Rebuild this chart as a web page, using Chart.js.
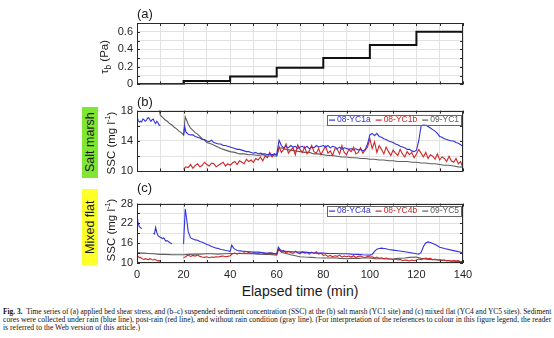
<!DOCTYPE html>
<html><head><meta charset="utf-8">
<script src="https://cdn.jsdelivr.net/npm/chart.js@4"></script>
<style>
body{margin:0;background:#fff;}
#wrap{position:relative;width:554px;height:338px;overflow:hidden;background:#fff;font-family:"Liberation Sans",Arial,sans-serif;color:#1a1a1a;}
canvas{position:absolute;left:0;}
.lbl{position:absolute;font-size:13px;line-height:14px;}
.vt{position:absolute;writing-mode:vertical-rl;transform:rotate(180deg);white-space:nowrap;display:flex;align-items:center;justify-content:center;}
.rot{position:absolute;white-space:nowrap;transform:translate(-50%,-50%) rotate(-90deg);font-size:11.5px;line-height:13px;}
.rot sup{font-size:7.5px;vertical-align:5px;line-height:0;}
.rot sub{font-size:8.5px;vertical-align:-3px;line-height:0;}
.cap{position:absolute;left:3px;font-family:"Liberation Serif",serif;font-size:7.4px;line-height:8px;white-space:nowrap;transform-origin:0 0;color:#111;}
</style></head>
<body>
<div id="wrap">
  <canvas id="ca" width="554" height="95" style="top:0px"></canvas>
  <canvas id="cb" width="554" height="82" style="top:100px"></canvas>
  <canvas id="cc" width="554" height="90" style="top:193px"></canvas>

  <div class="lbl" style="left:137px;top:7px">(a)</div>
  <div class="lbl" style="left:137px;top:95px">(b)</div>
  <div class="lbl" style="left:137px;top:181px">(c)</div>

  <div class="rot" style="left:104px;top:57px">τ<sub>b</sub> (Pa)</div>
  <div class="rot" style="left:111px;top:143px">SSC (mg l<sup>-1</sup>)</div>
  <div class="rot" style="left:111px;top:230px">SSC (mg l<sup>-1</sup>)</div>

  <div class="vt" style="left:82px;top:107px;width:16px;height:71px;font-size:12.5px;background:#80e632;">Salt marsh</div>
  <div class="vt" style="left:82px;top:189px;width:16px;height:76px;font-size:12.5px;background:#ffff2a;">Mixed flat</div>

  <div style="position:absolute;left:200px;top:283px;width:200px;text-align:center;font-size:14px;line-height:16px;color:#1a1a1a">Elapsed time (min)</div>

  <div class="cap" id="cap1" style="top:308px"><b>Fig. 3.</b>&nbsp; Time series of (a) applied bed shear stress, and (b–c) suspended sediment concentration (SSC) at the (b) salt marsh (YC1 site) and (c) mixed flat (YC4 and YC5 sites). Sediment</div>
  <div class="cap" id="cap2" style="top:316px">cores were collected under rain (blue line), post-rain (red line), and without rain condition (gray line). (For interpretation of the references to colour in this figure legend, the reader</div>
  <div class="cap" id="cap3" style="top:324px">is referred to the Web version of this article.)</div>
</div>
<script>
// ---------------- DATA ----------------
function seq(a, b, s) { const r = []; for (let t = a; t <= b + 1e-9; t += s) r.push(+t.toFixed(2)); return r; }

// (a) applied bed shear stress (Pa), step levels
const stressT = [0, 20, 40, 60, 80, 100, 120, 140];
const stressV = [0.005, 0.04, 0.09, 0.19, 0.30, 0.45, 0.60, 0.60];

// (b) salt marsh, 08-YC1a (rain, blue)
const yc1aT = [...seq(0, 10, 0.5), 15, 20, 20.5, ...seq(21, 140, 1)];
const yc1aV = [17.3,16.7,16.5,16.6,16.5,16.9,16.8,16.6,16.7,17.0,17.1,16.8,16.6,16.8,16.9,16.5,16.3,16.6,16.4,16.1,16.0,
  null, 14.7, 15.9,
  15.2,14.9,14.8,14.8,14.6,14.5,14.4,14.2,14.2,
  14.0,13.9,14.1,13.8,13.7,13.6,13.6,13.4,13.4,13.3,
  13.2,13.1,13.0,12.9,12.9,12.8,12.7,12.6,12.6,12.5,
  12.4,12.5,12.3,12.4,12.3,12.3,12.2,12.3,12.2,12.3,
  12.2,14.1,13.4,13.1,13.3,13.1,13.4,13.2,13.3,13.0,
  13.2,13.3,13.1,13.3,13.0,13.2,13.1,13.4,13.2,13.3,
  13.4,13.2,13.4,13.1,13.3,13.2,13.0,13.2,12.9,13.1,
  13.0,12.9,13.0,12.8,13.0,12.8,12.9,12.7,12.9,13.6,
  14.8,15.0,14.7,15.0,14.6,14.5,14.3,14.2,14.0,13.9,
  13.8,13.6,13.5,13.3,13.2,13.1,12.9,12.9,12.7,12.6,
  12.8,14.0,16.0,16.2,16.1,15.9,15.7,15.5,15.3,15.0,
  14.6,14.5,14.3,14.2,14.1,14.0,14.0,13.8,13.7,13.5,
  13.3];

// (b) salt marsh, 08-YC1b (post-rain, red)
const yc1bT = seq(20, 140, 1);
const yc1bV = [
  10.3,10.6,10.5,10.9,10.4,10.8,11.0,10.6,10.8,11.2,
  10.9,10.7,11.1,11.0,10.6,10.8,11.0,11.2,10.7,11.0,
  10.8,11.1,11.3,10.9,11.4,11.2,11.0,11.6,11.3,11.5,
  11.2,11.7,11.5,11.9,11.4,12.0,11.8,12.5,11.9,12.3,
  12.1,13.3,12.5,12.9,13.6,12.4,12.8,13.1,12.2,13.5,
  12.9,12.5,13.2,12.3,12.7,13.4,12.6,12.4,13.0,12.2,
  12.8,13.3,12.4,12.7,12.1,13.0,12.9,12.3,13.4,12.5,
  12.2,12.9,12.6,13.2,12.3,12.5,13.1,12.4,12.8,13.2,
  14.3,13.0,13.9,12.5,13.4,12.9,12.3,13.2,12.6,12.1,
  12.8,12.4,12.1,12.9,12.3,11.9,12.6,12.2,12.5,11.8,
  12.3,12.9,12.4,11.9,12.5,11.7,12.2,12.0,11.6,12.3,
  11.5,11.9,11.7,11.3,12.0,11.4,11.2,11.7,11.0,11.3,
  10.4];

// (b) salt marsh, 09-YC1 (no rain, gray)
const yc1T = [0,5,8,9.5,10,11,12,13,14,15,16,17,18,19,20,20.7,21.5,22,23,24,25,26,27,28,29,30,32,34,36,38,40,42,44,46,48,50,52,54,56,58,60,61,62,64,66,68,70,72,74,76,78,80,82,84,86,88,90,92,94,96,98,100,102,104,106,108,110,112,114,116,118,120,122,124,126,128,130,132,134,136,138,140];
const yc1V = [21.5,20.0,19.2,18.2,17.4,17.1,16.8,16.6,16.3,16.1,15.8,15.6,15.3,15.1,14.8,17.2,16.6,16.2,15.7,15.4,15.1,14.9,14.6,14.3,14.1,13.8,13.6,13.3,13.0,12.8,12.6,12.5,12.3,12.3,12.2,12.2,12.1,12.2,12.0,12.1,12.0,13.0,13.1,12.9,12.8,12.7,12.6,12.5,12.5,12.3,12.3,12.2,12.1,12.1,12.0,11.9,11.9,11.8,11.8,11.7,11.7,11.6,11.6,11.5,11.5,11.4,11.4,11.3,11.3,11.3,11.2,11.2,11.1,11.1,11.0,11.0,10.9,10.8,10.8,10.7,10.6,10.55];

// (c) mixed flat, 08-YC4a (rain, blue)
const yc4aT = [0,0.3,0.7,1,1.5,2,4,7,7.5,8,8.5,9,10,11,11.5,12,12.5,13,14,14.5,15,17,20,20.7,21.3,22,23,24,25,26,27,28,29,30,31,32,33,34,35,36,37,38,39,40,40.7,41.5,42,43,45,47,50,52,55,57,60,60.7,61.5,62,63,65,67,70,72,75,77,80,82,85,87,90,92,95,97,100,101,102,103,104,105,106,107,108,110,112,115,117,120,121,122,123,124,125,126,127,128,129,130,132,135,137,140];
const yc4aV = [23.3,22.6,21.7,21.0,20.7,20.4,null,19.0,18.8,20.8,19.3,18.3,17.8,17.4,17.6,17.0,16.6,16.8,16.2,16.0,15.8,null,15.8,26.4,23.5,19.5,17.6,17.3,17.0,16.9,16.5,16.3,16.0,15.6,15.4,15.0,14.8,14.5,14.4,14.1,14.0,13.8,13.7,13.5,15.4,14.5,14.2,13.8,13.6,13.5,13.3,13.3,13.0,13.0,12.8,14.8,14.0,13.8,13.6,13.5,13.4,13.3,13.3,13.1,13.0,13.0,12.9,12.9,12.8,12.8,12.7,12.6,12.5,12.4,12.6,13.5,14.2,14.4,14.5,14.4,14.3,14.1,13.9,13.7,13.4,13.2,12.8,12.7,13.2,15.0,16.1,16.4,16.2,15.9,15.6,15.2,14.8,14.4,13.9,13.6,13.1];

// (c) mixed flat, 08-YC4b (post-rain, red)
const yc4bT = [...seq(0, 10, 0.5), 15, ...seq(20, 140, 1)];
const yc4bV = [12.3,12.0,11.6,11.7,11.4,11.2,11.1,11.3,11.2,11.1,11.0,11.3,11.2,11.0,10.9,11.1,11.0,10.8,10.6,10.8,10.4,
  null,
  11.5,12.0,12.4,12.0,12.3,12.1,12.4,12.0,11.8,11.7,
  11.9,11.6,11.8,11.7,11.9,11.8,12.0,12.1,11.9,12.0,
  12.2,12.8,13.0,12.7,13.0,12.8,13.1,12.9,13.2,12.8,
  13.0,12.9,12.8,13.2,13.1,12.9,12.7,13.1,13.0,12.8,
  12.6,14.3,13.3,13.8,13.0,13.5,13.2,12.9,13.6,13.1,
  12.8,13.4,13.0,13.2,12.7,13.3,12.9,13.4,12.7,13.0,
  12.3,12.5,12.0,12.3,11.9,12.2,12.0,12.4,11.8,12.1,
  11.9,12.1,11.8,12.2,11.7,12.0,12.1,11.8,11.6,12.0,
  11.8,11.9,11.5,11.8,11.4,11.6,11.3,11.5,11.3,11.2,
  11.0,11.2,10.9,11.1,10.7,10.9,10.8,10.6,10.9,10.7,
  10.9,11.2,11.0,11.3,11.5,11.3,11.4,11.0,11.2,10.9,
  11.0,10.8,10.9,10.6,10.8,10.5,10.8,10.6,10.7,10.4,
  10.6];

// (c) mixed flat, 09-YC5 (no rain, gray)
const yc5T = [0,1,2,3,5,7,10,12,15,17,20,22,25,27,30,32,35,37,40,42,45,47,50,52,55,57,60,60.7,61.5,62,63,64,66,68,70,72,75,77,80,82,85,87,90,92,95,97,100,102,105,107,110,112,115,117,120,122,125,127,130,132,135,137,140];
const yc5V = [13.2,13.1,13.0,13.0,12.9,12.8,12.6,12.6,12.5,12.5,12.5,12.6,12.7,12.7,12.8,12.8,12.7,12.8,12.9,12.9,12.9,12.8,12.8,12.7,12.6,12.6,12.4,14.2,13.6,13.4,13.1,12.9,12.5,12.2,11.9,11.8,11.7,11.6,11.5,11.5,11.6,11.4,11.3,11.4,11.4,11.5,11.5,11.3,11.3,11.2,11.2,11.4,11.5,11.7,11.8,11.4,11.1,11.0,10.9,10.8,10.6,10.5,10.3];

const labelsB = ['08-YC1a', '08-YC1b', '09-YC1'];
const labelsC = ['08-YC4a', '08-YC4b', '09-YC5'];

// ---------------- STYLE ----------------
const BLUE = '#3232e0', RED = '#cf2626', GRAY = '#5e5e5e', BLACK = '#111';
const FONT = '"Liberation Sans", Arial, sans-serif';
const TICKC = '#262626', GRIDC = '#e2e2e2';

function pts(t, v) { return t.map((x, i) => ({ x: x, y: v[i] })); }

const frame = {
  id: 'frame',
  afterDatasetsDraw(chart) {
    const { ctx, chartArea: a, scales: { x, y } } = chart;
    ctx.save();
    ctx.strokeStyle = '#2a2a2a'; ctx.lineWidth = 1;
    ctx.beginPath();
    x.ticks.forEach(t => { const p = Math.round(x.getPixelForValue(t.value)) + 0.5;
      ctx.moveTo(p, a.top); ctx.lineTo(p, a.top + 3); ctx.moveTo(p, a.bottom); ctx.lineTo(p, a.bottom - 3); });
    y.ticks.forEach(t => { const p = Math.round(y.getPixelForValue(t.value)) + 0.5;
      ctx.moveTo(a.left, p); ctx.lineTo(a.left + 3, p); ctx.moveTo(a.right, p); ctx.lineTo(a.right - 3, p); });
    ctx.stroke();
    ctx.strokeRect(Math.round(a.left) + 0.5, Math.round(a.top) + 0.5, Math.round(a.width) - 1, Math.round(a.height) - 1);
    ctx.restore();
  }
};

const inLegend = {
  id: 'inlegend',
  afterDraw(chart, args, o) {
    if (!o || !o.show) return;
    const ctx = chart.ctx, a = chart.chartArea;
    ctx.save();
    ctx.font = '8.5px ' + FONT;
    const items = chart.data.datasets.map(d => ({ t: d.label, c: d.borderColor, w: ctx.measureText(d.label).width }));
    const lineW = 6, g1 = 2, g2 = 5, pad = 2, h = 10;
    const total = pad * 2 + items.reduce((s, it) => s + lineW + g1 + it.w, 0) + g2 * (items.length - 1);
    const right = a.right - 2, top = a.top + o.dy, left = right - total;
    ctx.fillStyle = '#fff'; ctx.fillRect(left, top, total, h);
    ctx.strokeStyle = '#666'; ctx.lineWidth = 1;
    ctx.strokeRect(Math.round(left) + 0.5, Math.round(top) + 0.5, Math.round(total), h);
    let x = left + pad; const cy = top + h / 2 + 0.5;
    ctx.textBaseline = 'middle';
    items.forEach(it => {
      ctx.strokeStyle = it.c; ctx.lineWidth = 1.2; ctx.beginPath(); ctx.moveTo(x, cy); ctx.lineTo(x + lineW, cy); ctx.stroke();
      x += lineW + g1; ctx.fillStyle = it.c; ctx.fillText(it.t, x, cy); x += it.w + g2;
    });
    ctx.restore();
  }
};

function makeChart(id, datasets, cfg) {
  return new Chart(document.getElementById(id), {
    type: 'line',
    data: { datasets: datasets },
    options: {
      responsive: false, animation: false,
      layout: { padding: { top: cfg.padTop, right: 91, left: 0, bottom: 0 } },
      elements: { point: { radius: 0 }, line: { tension: 0 } },
      plugins: { legend: { display: false }, tooltip: { enabled: false },
        inlegend: { show: !!cfg.legend, dy: cfg.legendDy || 3 } },
      scales: {
        x: { type: 'linear', min: 0, max: 140,
          ticks: { stepSize: 10, autoSkip: false, maxRotation: 0, display: cfg.showX,
            callback: v => (v % 20 === 0 ? String(v) : ''), font: { family: FONT, size: 11 }, color: TICKC, padding: 5 },
          grid: { color: GRIDC, drawTicks: false }, border: { display: false },
          afterFit: s => { s.height = cfg.xh; } },
        y: { type: 'linear', min: cfg.yMin, max: cfg.yMax,
          ticks: { stepSize: cfg.yStep, autoSkip: false, callback: cfg.yLab, font: { family: FONT, size: 11 }, color: TICKC, padding: 4 },
          grid: { color: GRIDC, drawTicks: false }, border: { display: false },
          afterFit: s => { s.width = 137; } }
      }
    },
    plugins: [frame, inLegend]
  });
}

const lineDs = (label, t, v, color) => ({ label, data: pts(t, v), borderColor: color, backgroundColor: color,
  borderWidth: 1.1, spanGaps: false, fill: false });

// (a)
makeChart('ca', [{ label: 'tau_b', data: pts(stressT, stressV), borderColor: BLACK, borderWidth: 2, stepped: 'before', fill: false }],
  { padTop: 23, xh: 7, showX: false, yMin: 0, yMax: 0.7, yStep: 0.1,
    yLab: v => { const k = Math.round(v * 10); return k % 2 === 0 ? String(k / 10) : ''; } });

// (b)
makeChart('cb', [
  lineDs(labelsB[0], yc1aT, yc1aV, BLUE),
  lineDs(labelsB[1], yc1bT, yc1bV, RED),
  lineDs(labelsB[2], yc1T, yc1V, GRAY)
], { padTop: 9, xh: 5, showX: false, yMin: 10, yMax: 18, yStep: 2,
  yLab: v => ((v - 10) % 4 === 0 ? String(v) : ''), legend: true, legendDy: 4 });

// (c)
makeChart('cc', [
  lineDs(labelsC[0], yc4aT, yc4aV, BLUE),
  lineDs(labelsC[1], yc4bT, yc4bV, RED),
  lineDs(labelsC[2], yc5T, yc5V, GRAY)
], { padTop: 5, xh: 20, showX: true, yMin: 10, yMax: 28, yStep: 3,
  yLab: v => ((v - 10) % 6 === 0 ? String(v) : ''), legend: true, legendDy: 2 });

// caption: fit lines to the column width
(function () {
  const W = 548;
  const c1 = document.getElementById('cap1'), c2 = document.getElementById('cap2'), c3 = document.getElementById('cap3');
  const s1 = W / c1.scrollWidth, s2 = W / c2.scrollWidth;
  c1.style.transform = 'scaleX(' + s1 + ')';
  c2.style.transform = 'scaleX(' + s2 + ')';
  c3.style.transform = 'scaleX(' + s2 + ')';
})();
</script>
</body></html>
